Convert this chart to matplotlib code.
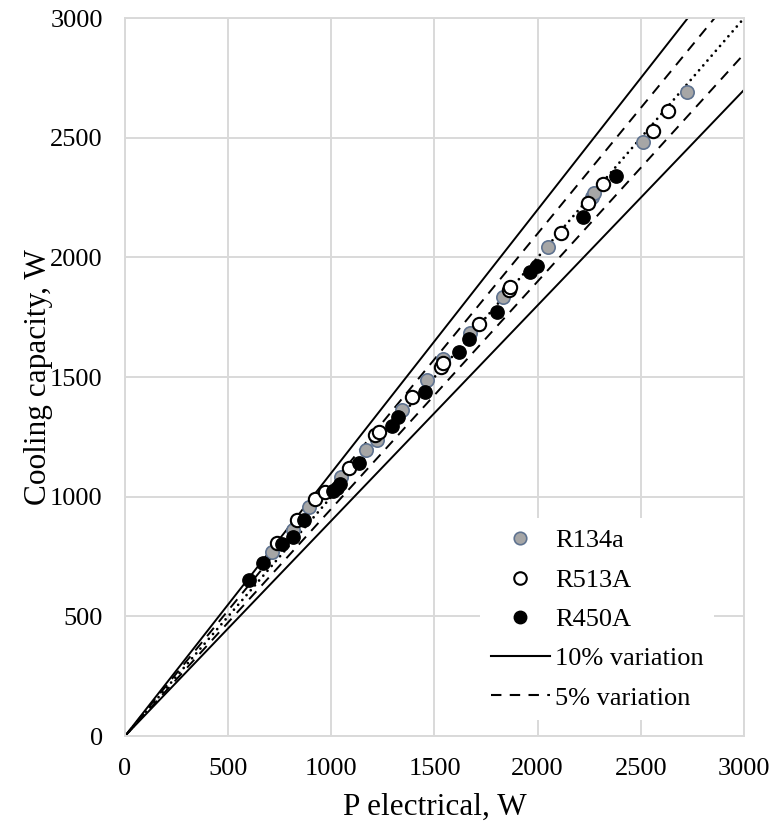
import numpy as np
import matplotlib
matplotlib.use("Agg")
import matplotlib.pyplot as plt
from matplotlib.lines import Line2D

plt.rcParams['font.family'] = ['Liberation Serif', 'DejaVu Serif']

# Electrical power input (W) and measured cooling capacity (W) per refrigerant
r134a_p = [711, 816, 893, 1045, 1166, 1222, 1341, 1462, 1540, 1670, 1830, 2052, 2262, 2273, 2512, 2723]
r134a_q = [770, 861, 958, 1082, 1196, 1239, 1362, 1488, 1575, 1683, 1834, 2043, 2254, 2268, 2484, 2692]

r513a_p = [737, 832, 923, 968, 1086, 1212, 1232, 1390, 1530, 1543, 1715, 1863, 1866, 2112, 2246, 2317, 2558, 2634]
r513a_q = [806, 903, 991, 1021, 1121, 1256, 1272, 1415, 1541, 1557, 1720, 1864, 1876, 2103, 2229, 2308, 2528, 2613]

r450a_p = [602, 671, 763, 816, 869, 1006, 1026, 1040, 1132, 1293, 1325, 1454, 1621, 1669, 1802, 1963, 1996, 2222, 2381]
r450a_q = [650, 722, 801, 833, 903, 1025, 1038, 1052, 1140, 1295, 1332, 1439, 1606, 1658, 1773, 1940, 1964, 2170, 2341]

# Deviation bands around the ideal y = x line
band_10 = [1.10, 0.90]
band_05 = [1.05, 0.95]

x_ticks = [0, 500, 1000, 1500, 2000, 2500, 3000]
y_ticks = [0, 500, 1000, 1500, 2000, 2500, 3000]

fig = plt.figure(figsize=(7.74, 8.27), dpi=100)
ax = fig.add_axes([0.1615, 0.110, 0.7997, 0.868])

grid_c = '#d9d9d9'
ax.set_xlim(0, 3000)
ax.set_ylim(0, 3000)
ax.set_xticks(x_ticks)
ax.set_yticks(y_ticks)
ax.grid(True, color=grid_c, linewidth=1.4, zorder=0)
ax.set_axisbelow(True)
for s in ax.spines.values():
    s.set_color(grid_c)
    s.set_linewidth(1.4)
ax.tick_params(length=0, labelsize=19, colors='black', pad=16)

xs = np.array([0, 3000])
ax.plot(xs, xs, color='black', linewidth=2.0, linestyle=(0, (0.01, 2.3)),
        dash_capstyle='round', zorder=2)
for k in band_10:
    ax.plot(xs, k * xs, color='black', linewidth=1.4, linestyle='-', zorder=2)
for k in band_05:
    ax.plot(xs, k * xs, color='black', linewidth=1.4, linestyle=(0, (5.5, 4)), zorder=2)

msize = 92
ax.scatter(r134a_p, r134a_q, s=msize, facecolor='#a6a6a6', edgecolor='#5f7390',
           linewidth=1.2, zorder=3)
ax.scatter(r513a_p, r513a_q, s=msize, facecolor='white', edgecolor='black',
           linewidth=1.5, zorder=4)
ax.scatter(r450a_p, r450a_q, s=msize, facecolor='black', edgecolor='black',
           linewidth=1.0, zorder=5)

ax.set_xlabel('P electrical, W', fontsize=22.5, va='center')
ax.set_ylabel('Cooling capacity, W', fontsize=22.5, va='center')
ax.xaxis.set_label_coords(0.5, -0.100)
ax.yaxis.set_label_coords(-0.140, 0.5)

handles = [
    Line2D([], [], linestyle='none', marker='o', markersize=9,
           markerfacecolor='#a6a6a6', markeredgecolor='#5f7390', markeredgewidth=1.2),
    Line2D([], [], linestyle='none', marker='o', markersize=9,
           markerfacecolor='white', markeredgecolor='black', markeredgewidth=1.5),
    Line2D([], [], linestyle='none', marker='o', markersize=9,
           markerfacecolor='black', markeredgecolor='black'),
    Line2D([], [], color='black', linewidth=1.5, linestyle='-'),
    Line2D([], [], color='black', linewidth=1.5, linestyle=(0, (5, 4))),
]
labels = ['R134a', 'R513A', 'R450A', '10% variation', '5% variation']
leg = ax.legend(handles, labels, loc='lower right', bbox_to_anchor=(0.952, 0.022),
                fontsize=19, frameon=True, fancybox=False, framealpha=1,
                edgecolor='none', facecolor='white',
                handlelength=2.24, handletextpad=0.2, labelspacing=0.6,
                borderaxespad=0.0, borderpad=0.4)
leg.set_zorder(10)

fig.savefig('out.png', dpi=100)
